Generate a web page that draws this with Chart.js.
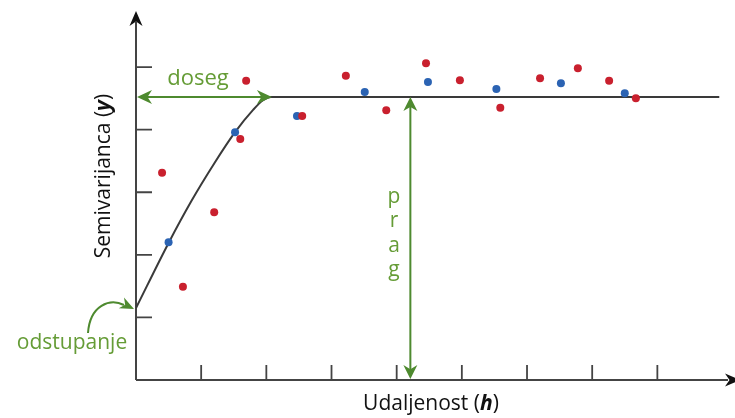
<!DOCTYPE html>
<html>
<head>
<meta charset="utf-8">
<script src="https://cdn.jsdelivr.net/npm/chart.js@4/dist/chart.umd.min.js"></script>
<style>
  body { margin: 0; background: #fff; }
  canvas { display: block; }
</style>
</head>
<body>
<canvas id="myChart" width="735" height="418"></canvas>
<script>
// measured points (distance h, semivariance y)
var redX = [0.40, 0.72, 1.20, 1.60, 1.69, 2.55, 3.22, 3.84, 4.45, 4.97, 5.59, 6.20, 6.78, 7.26, 7.67];
var redY = [3.31, 1.49, 2.68, 3.85, 4.78, 4.22, 4.86, 4.31, 5.06, 4.79, 4.35, 4.82, 4.98, 4.78, 4.50];
var blueX = [0.50, 1.52, 2.47, 3.51, 4.48, 5.53, 6.52, 7.50];
var blueY = [2.20, 3.96, 4.22, 4.60, 4.76, 4.65, 4.74, 4.58];
// model curve
var modelX = [0, 0.5, 0.85, 1.2, 1.52, 1.8, 1.95, 2.07, 8.95];
var modelY = [1.15, 2.19, 2.86, 3.46, 3.96, 4.32, 4.47, 4.52, 4.52];
var xTicks = [1, 2, 3, 4, 5, 6, 7, 8];
var yTicks = [1, 2, 3, 4, 5];
var nugget = 1.15;
var sill = 4.52;
var range = 2.07;
var pragX = 4.21;

function pts(xs, ys) {
  return xs.map(function (x, i) { return {x: x, y: ys[i]}; });
}

var green = "#4e8a2f";
var greenText = "#659c36";
var axisColor = "#444";

function arrowHead(ctx, x, y, ang, len, w) {
  ctx.save();
  ctx.translate(x, y);
  ctx.rotate(ang);
  ctx.beginPath();
  ctx.moveTo(0, 0);
  ctx.lineTo(-len, -w / 2);
  ctx.lineTo(-len * 0.7, 0);
  ctx.lineTo(-len, w / 2);
  ctx.closePath();
  ctx.fill();
  ctx.restore();
}

function mixedText(ctx, parts, cx, cy) {
  var total = 0;
  parts.forEach(function (p) { ctx.font = p[1]; total += ctx.measureText(p[0]).width; });
  var x = cx - total / 2;
  parts.forEach(function (p) {
    ctx.font = p[1];
    ctx.fillText(p[0], x, cy);
    x += ctx.measureText(p[0]).width;
  });
}

var decor = {
  id: "decor",
  beforeDatasetsDraw: function (chart) {
    var ctx = chart.ctx, xs = chart.scales.x, ys = chart.scales.y;
    var x0 = xs.getPixelForValue(0), y0 = ys.getPixelForValue(0);
    ctx.save();
    ctx.strokeStyle = axisColor;
    ctx.fillStyle = "#111";
    ctx.lineWidth = 2;
    // axes
    ctx.beginPath();
    ctx.moveTo(x0, y0);
    ctx.lineTo(x0, 22);
    ctx.moveTo(x0, y0);
    ctx.lineTo(728, y0);
    ctx.stroke();
    arrowHead(ctx, x0, 11, -Math.PI / 2, 15, 13);
    arrowHead(ctx, 740, y0, 0, 15, 13);
    // ticks
    ctx.lineWidth = 1.8;
    ctx.beginPath();
    xTicks.forEach(function (v) {
      var px = xs.getPixelForValue(v);
      ctx.moveTo(px, y0);
      ctx.lineTo(px, y0 - 15);
    });
    yTicks.forEach(function (v) {
      var py = ys.getPixelForValue(v);
      ctx.moveTo(x0, py);
      ctx.lineTo(x0 + 16, py);
    });
    ctx.stroke();
    ctx.restore();
  },
  afterDatasetsDraw: function (chart) {
    var ctx = chart.ctx, xs = chart.scales.x, ys = chart.scales.y;
    var x0 = xs.getPixelForValue(0), y0 = ys.getPixelForValue(0);
    var sy = ys.getPixelForValue(sill);
    var rx = xs.getPixelForValue(range);
    var px = xs.getPixelForValue(pragX);
    ctx.save();
    ctx.strokeStyle = green;
    ctx.fillStyle = green;
    ctx.lineWidth = 2;
    // doseg arrow
    ctx.beginPath();
    ctx.moveTo(x0 + 6, sy);
    ctx.lineTo(rx - 6, sy);
    ctx.stroke();
    arrowHead(ctx, x0 + 1, sy, Math.PI, 15, 14);
    arrowHead(ctx, rx + 1, sy, 0, 15, 14);
    // prag arrow
    ctx.beginPath();
    ctx.moveTo(px, sy + 6);
    ctx.lineTo(px, y0 - 6);
    ctx.stroke();
    arrowHead(ctx, px, sy, -Math.PI / 2, 14, 14);
    arrowHead(ctx, px, y0 - 1, Math.PI / 2, 14, 14);
    // odstupanje curved arrow
    var ny = ys.getPixelForValue(nugget);
    ctx.beginPath();
    ctx.moveTo(88, 333);
    ctx.bezierCurveTo(90, 305, 110, 298, 124, 305);
    ctx.stroke();
    arrowHead(ctx, x0 - 2, ny + 1, 0.45, 14, 12);

    // labels
    ctx.fillStyle = greenText;
    ctx.textAlign = "center";
    ctx.textBaseline = "middle";
    ctx.font = "22px 'Open Sans'";
    ctx.fillText("doseg", 198, 79);
    ctx.font = "21px 'Open Sans'";
    ctx.fillText("odstupanje", 72, 343);
    ["p", "r", "a", "g"].forEach(function (c, i) {
      ctx.fillText(c, 394, 197 + i * 24.5);
    });

    // axis titles
    ctx.fillStyle = "#111";
    ctx.textAlign = "left";
    var reg = "21px 'Open Sans'", em = "italic bold 21px 'Open Sans'";
    mixedText(ctx, [["Udaljenost (", reg], ["h", em], [")", reg]], 431, 404);
    ctx.translate(104, 176);
    ctx.rotate(-Math.PI / 2);
    mixedText(ctx, [["Semivarijanca (", reg], ["y", em], [")", reg]], 0, 0);
    ctx.restore();
  }
};

new Chart("myChart", {
  type: "scatter",
  data: {
    datasets: [{
      label: "model",
      type: "line",
      data: pts(modelX, modelY),
      borderColor: "#3a3a3a",
      borderWidth: 2,
      pointRadius: 0,
      cubicInterpolationMode: "monotone",
      fill: false,
      order: 3
    }, {
      label: "red",
      data: pts(redX, redY),
      backgroundColor: "#c9202e",
      borderWidth: 0,
      pointRadius: 4,
      order: 1
    }, {
      label: "blue",
      data: pts(blueX, blueY),
      backgroundColor: "#2b63b3",
      borderWidth: 0,
      pointRadius: 4,
      order: 2
    }]
  },
  options: {
    responsive: false,
    animation: false,
    layout: {padding: {left: 136, right: 0, top: 12, bottom: 38}},
    plugins: {legend: {display: false}, tooltip: {enabled: false}},
    scales: {
      x: {type: "linear", min: 0, max: 9.13, display: false},
      y: {type: "linear", min: 0, max: 5.88, display: false}
    }
  },
  plugins: [decor]
});
</script>
</body>
</html>
